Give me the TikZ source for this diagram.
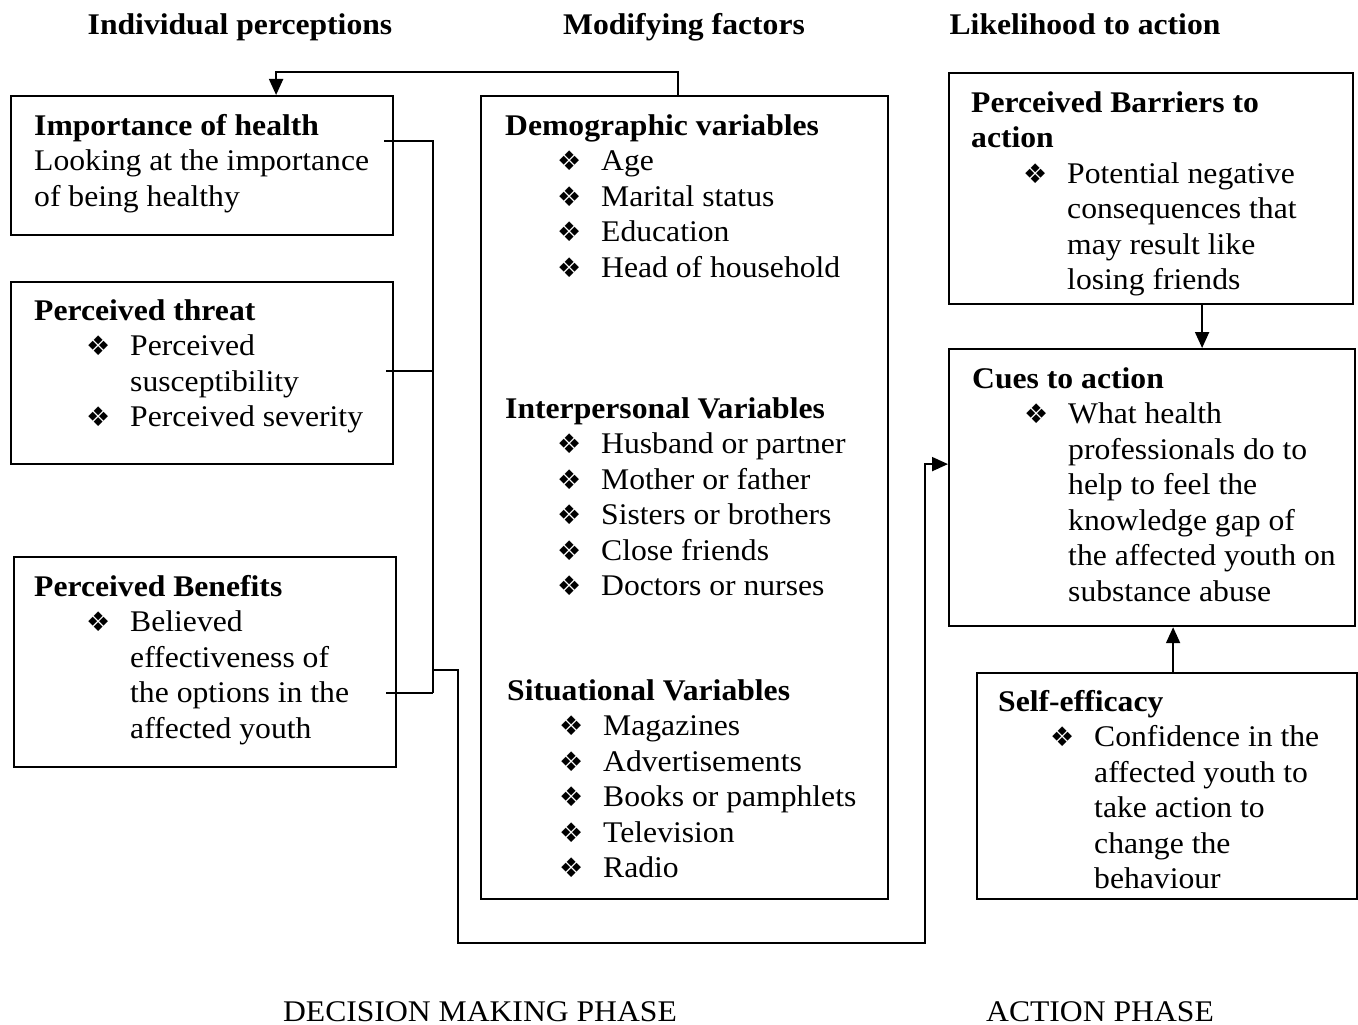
\documentclass[tikz,border=0pt]{standalone}
\usepackage{fontspec}
\setmainfont[FakeStretch=1.055]{Liberation Serif}
\newfontfamily\symfont{DejaVu Sans}
\usetikzlibrary{arrows.meta}

% bullet and indents for the lists
\newcommand{\bul}{{\symfont\fontsize{27}{27}\selectfont ❖}}
\newcommand{\itm}{\hspace*{52pt}\makebox[44pt][l]{\bul}}
\newcommand{\cnt}{\hspace*{96pt}}
\newcommand{\fst}{\rule{0pt}{25pt}}

\tikzset{
  box/.style={draw, line width=2.2pt, anchor=north west, inner sep=0pt},
  txt/.style={anchor=north west, inner sep=0pt, align=left, font=\fontsize{30}{35.5}\selectfont},
  head/.style={anchor=base, inner sep=0pt, font=\fontsize{30}{35}\selectfont\bfseries},
  phase/.style={anchor=base, inner sep=0pt, font=\fontsize{30}{35}\selectfont},
  conn/.style={line width=2pt},
  arr/.style={conn, -{Triangle[length=16pt,width=14pt]}}
}

\begin{document}
\begin{tikzpicture}[x=1pt,y=-1pt]
\useasboundingbox (0,0) rectangle (1358,1025);

% column titles
\node[head] (hInd) at (240,35) {Individual perceptions};
\node[head] (hMod) at (684,35) {Modifying factors};
\node[head] (hLik) at (1085,35) {Likelihood to action};

% individual perceptions
\node[box, minimum width=382pt, minimum height=139pt] (imp) at (10,95) {};
\node[txt] (impT) at (34,110) {\fst\textbf{Importance of health}\\Looking at the importance\\of being healthy};

\node[box, minimum width=382pt, minimum height=182pt] (thr) at (10,281) {};
\node[txt] (thrT) at (34,295) {\fst\textbf{Perceived threat}\\
\itm Perceived\\
\cnt susceptibility\\
\itm Perceived severity};

\node[box, minimum width=382pt, minimum height=210pt] (ben) at (13,556) {};
\node[txt] (benT) at (34,571) {\fst\textbf{Perceived Benefits}\\
\itm Believed\\
\cnt effectiveness of\\
\cnt the options in the\\
\cnt affected youth};

% modifying factors
\node[box, minimum width=407pt, minimum height=803pt] (mod) at (480,95) {};
\node[txt] (demT) at (505,110) {\fst\textbf{Demographic variables}\\
\itm Age\\
\itm Marital status\\
\itm Education\\
\itm Head of household};
\node[txt] (intT) at (505,393) {\fst\textbf{Interpersonal Variables}\\
\itm Husband or partner\\
\itm Mother or father\\
\itm Sisters or brothers\\
\itm Close friends\\
\itm Doctors or nurses};
\node[txt] (sitT) at (507,675) {\fst\textbf{Situational Variables}\\
\itm Magazines\\
\itm Advertisements\\
\itm Books or pamphlets\\
\itm Television\\
\itm Radio};

% likelihood to action
\node[box, minimum width=404pt, minimum height=231pt] (bar) at (948,72) {};
\node[txt] (barT) at (971,87) {\fst\textbf{Perceived Barriers to}\\
\textbf{action}\\
\itm Potential negative\\
\cnt consequences that\\
\cnt may result like\\
\cnt losing friends};

\node[box, minimum width=406pt, minimum height=277pt] (cue) at (948,348) {};
\node[txt] (cueT) at (972,363) {\fst\textbf{Cues to action}\\
\itm What health\\
\cnt professionals do to\\
\cnt help to feel the\\
\cnt knowledge gap of\\
\cnt the affected youth on\\
\cnt substance abuse};

\node[box, minimum width=380pt, minimum height=226pt] (slf) at (976,672) {};
\node[txt] (slfT) at (998,686) {\fst\textbf{Self-efficacy}\\
\itm Confidence in the\\
\cnt affected youth to\\
\cnt take action to\\
\cnt change the\\
\cnt behaviour};

% connectors
\coordinate (busT) at (433,141);
\coordinate (busM) at (433,670);
\coordinate (busB) at (433,693);

\draw[arr] ([xshift=-7pt]mod.north) -- ++(0,-23) -| ([xshift=74pt]imp.north);
\draw[conn] ([shift={(-10,46)}]imp.north east) -- (busT) -- (busB);
\draw[conn] ([shift={(-8,90)}]thr.north east) coordinate (t1) -- (t1 -| busT);
\draw[conn] ([shift={(-11,137)}]ben.north east) -- (busB);
\draw[arr] (busM) -- ++(25,0) -- ++(0,273) -- ++(467,0) |- ([yshift=23.5pt]cue.west);
\draw[arr] ([xshift=51pt]bar.south) -- ([xshift=51pt]bar.south |- cue.north);
\draw[arr] ([xshift=6pt]slf.north) -- ([xshift=6pt]slf.north |- cue.south);

% phases
\node[phase] (pDec) at (480,1021) {DECISION MAKING PHASE};
\node[phase] (pAct) at (1100,1021) {ACTION PHASE};
\end{tikzpicture}
\end{document}
